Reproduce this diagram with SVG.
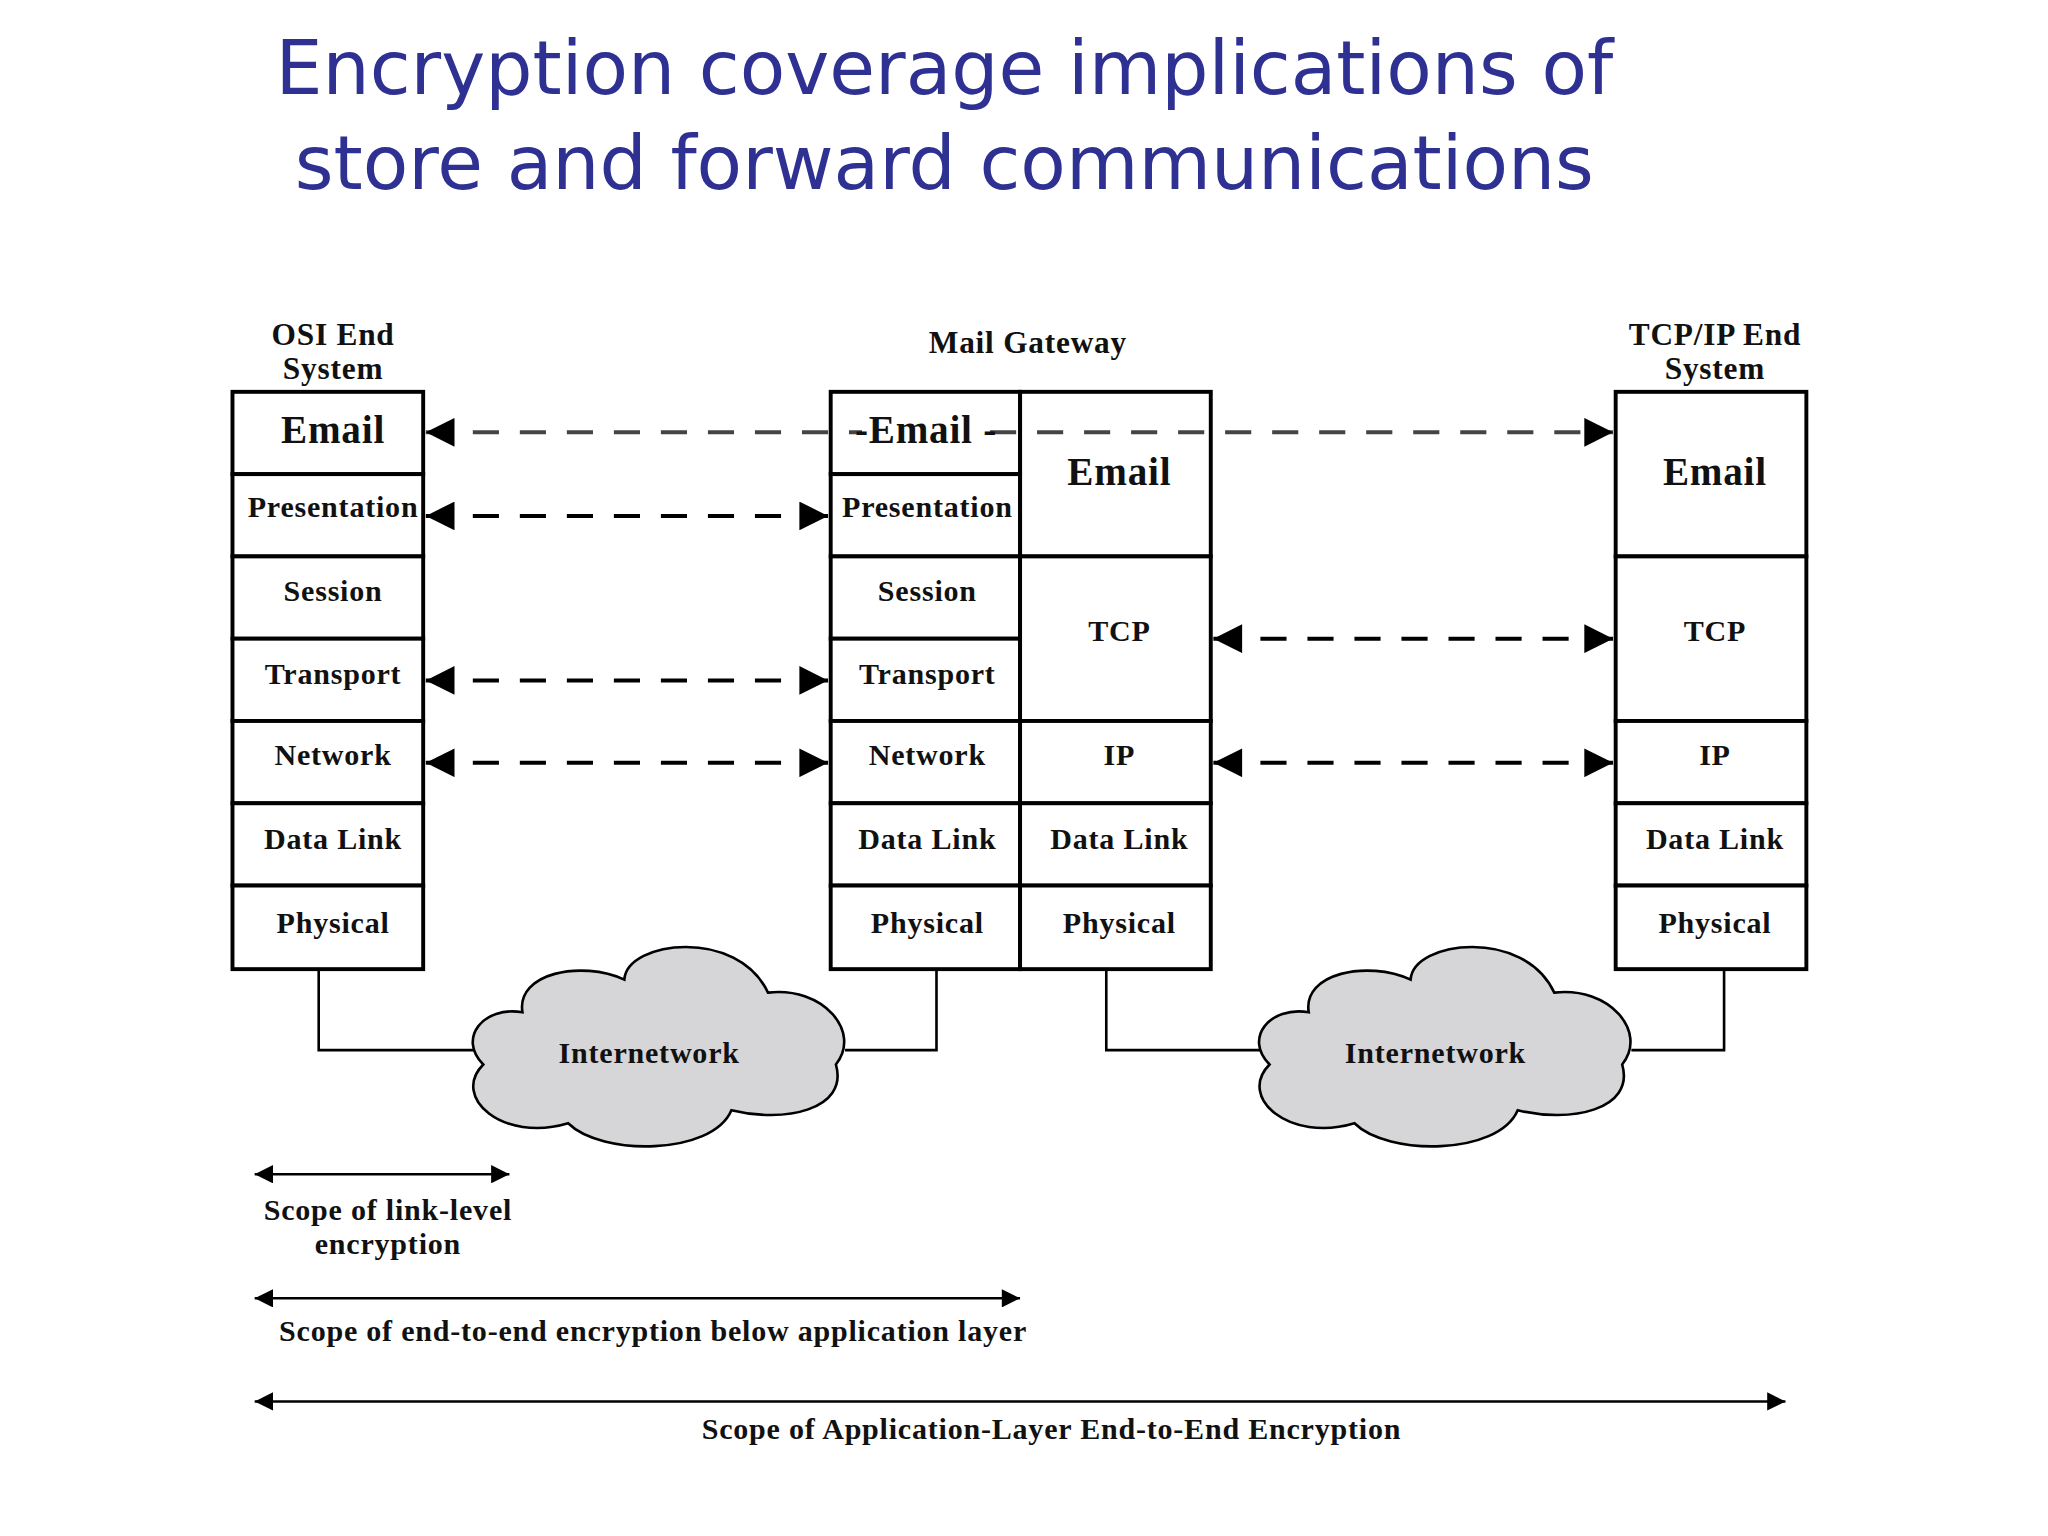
<svg xmlns="http://www.w3.org/2000/svg" width="2048" height="1536" viewBox="0 0 2048 1536">
<defs>
<style>
.t{font-family:"Liberation Serif",serif;font-weight:bold;fill:#111;text-anchor:middle;letter-spacing:0.6px}
.b{fill:#fff;stroke:#000;stroke-width:3}
.d{stroke:#000;stroke-width:3;stroke-dasharray:20 16;fill:none}
.g{stroke:#444}
.s{stroke:#000;stroke-width:2;fill:none}
.c{fill:#d6d6d9;stroke:#000;stroke-width:2}
.ti{font-family:"DejaVu Sans",sans-serif;fill:#2e3192;font-size:57px;text-anchor:middle}
</style>
<marker id="m" viewBox="0 0 10 10" refX="10" refY="5" markerWidth="26" markerHeight="22" markerUnits="userSpaceOnUse" orient="auto-start-reverse"><path d="M0,0L10,5L0,10z"/></marker>
<marker id="sm" viewBox="0 0 10 10" refX="10" refY="5" markerWidth="22" markerHeight="14" markerUnits="userSpaceOnUse" orient="auto-start-reverse"><path d="M0,0L10,5L0,10z"/></marker>
</defs>
<rect width="2048" height="1536" fill="#fff"/>
<g transform="scale(1.30612)">
<g id="title">
<text class="ti" x="723" y="72">Encryption coverage implications of</text>
<text class="ti" x="723" y="145">store and forward communications</text>
</g>
<g id="connectors">
<path class="s" d="M244,742V804H365M647,804H717V742M847,742V804H966M1249,804H1320V742"/>
<line class="d g" x1="326" y1="331" x2="1235" y2="331" marker-start="url(#m)" marker-end="url(#m)"/>
<line class="d" x1="326" y1="395" x2="634" y2="395" marker-start="url(#m)" marker-end="url(#m)"/>
<line class="d" x1="326" y1="521" x2="634" y2="521" marker-start="url(#m)" marker-end="url(#m)"/>
<line class="d" x1="326" y1="584" x2="634" y2="584" marker-start="url(#m)" marker-end="url(#m)"/>
<line class="d" x1="929" y1="489" x2="1235" y2="489" marker-start="url(#m)" marker-end="url(#m)"/>
<line class="d" x1="929" y1="584" x2="1235" y2="584" marker-start="url(#m)" marker-end="url(#m)"/>
<line class="s" x1="195" y1="899" x2="390" y2="899" marker-start="url(#sm)" marker-end="url(#sm)"/>
<line class="s" x1="195" y1="994" x2="781" y2="994" marker-start="url(#sm)" marker-end="url(#sm)"/>
<line class="s" x1="195" y1="1073" x2="1367" y2="1073" marker-start="url(#sm)" marker-end="url(#sm)"/>
</g>
<g id="osi">
<text class="t" x="255" y="264" font-size="24">OSI End</text>
<text class="t" x="255" y="290" font-size="24">System</text>
<rect class="b" x="178" y="300" width="146" height="63"/>
<rect class="b" x="178" y="363" width="146" height="63"/>
<rect class="b" x="178" y="426" width="146" height="63"/>
<rect class="b" x="178" y="489" width="146" height="63"/>
<rect class="b" x="178" y="552" width="146" height="63"/>
<rect class="b" x="178" y="615" width="146" height="63"/>
<rect class="b" x="178" y="678" width="146" height="64"/>
<text class="t" x="255" y="339" font-size="30">Email</text>
<text class="t" x="255" y="396" font-size="23">Presentation</text>
<text class="t" x="255" y="460" font-size="23">Session</text>
<text class="t" x="255" y="524" font-size="23">Transport</text>
<text class="t" x="255" y="586" font-size="23">Network</text>
<text class="t" x="255" y="650" font-size="23">Data Link</text>
<text class="t" x="255" y="714" font-size="23">Physical</text>
</g>
<g id="gateway">
<text class="t" x="787" y="270" font-size="24">Mail Gateway</text>
<rect class="b" x="636" y="300" width="145" height="63" fill-opacity="0"/>
<rect class="b" x="636" y="363" width="145" height="63"/>
<rect class="b" x="636" y="426" width="145" height="63"/>
<rect class="b" x="636" y="489" width="145" height="63"/>
<rect class="b" x="636" y="552" width="145" height="63"/>
<rect class="b" x="636" y="615" width="145" height="63"/>
<rect class="b" x="636" y="678" width="145" height="64"/>
<rect x="660" y="315" width="95" height="32" fill="#fff"/>
<text class="t" x="709" y="339" font-size="30">-Email -</text>
<text class="t" x="710" y="396" font-size="23">Presentation</text>
<text class="t" x="710" y="460" font-size="23">Session</text>
<text class="t" x="710" y="524" font-size="23">Transport</text>
<text class="t" x="710" y="586" font-size="23">Network</text>
<text class="t" x="710" y="650" font-size="23">Data Link</text>
<text class="t" x="710" y="714" font-size="23">Physical</text>
<rect class="b" x="781" y="300" width="146" height="126" fill-opacity="0"/>
<rect class="b" x="781" y="426" width="146" height="126"/>
<rect class="b" x="781" y="552" width="146" height="63"/>
<rect class="b" x="781" y="615" width="146" height="63"/>
<rect class="b" x="781" y="678" width="146" height="64"/>
<rect x="800" y="345" width="110" height="34" fill="#fff"/>
<text class="t" x="857" y="371" font-size="30">Email</text>
<text class="t" x="857" y="491" font-size="23">TCP</text>
<text class="t" x="857" y="586" font-size="23">IP</text>
<text class="t" x="857" y="650" font-size="23">Data Link</text>
<text class="t" x="857" y="714" font-size="23">Physical</text>
</g>
<g id="tcpip">
<text class="t" x="1313" y="264" font-size="24">TCP/IP End</text>
<text class="t" x="1313" y="290" font-size="24">System</text>
<rect class="b" x="1237" y="300" width="146" height="126"/>
<rect class="b" x="1237" y="426" width="146" height="126"/>
<rect class="b" x="1237" y="552" width="146" height="63"/>
<rect class="b" x="1237" y="615" width="146" height="63"/>
<rect class="b" x="1237" y="678" width="146" height="64"/>
<text class="t" x="1313" y="371" font-size="30">Email</text>
<text class="t" x="1313" y="491" font-size="23">TCP</text>
<text class="t" x="1313" y="586" font-size="23">IP</text>
<text class="t" x="1313" y="650" font-size="23">Data Link</text>
<text class="t" x="1313" y="714" font-size="23">Physical</text>
</g>
<g id="cloud1">
<path class="c" d="M400,775C395,745 445,735 478,750C480,720 565,710 588,760C630,755 660,790 640,815C650,850 600,860 560,850C545,885 460,885 435,860C385,875 345,840 370,815C350,795 370,770 400,775Z"/>
<text class="t" x="497" y="814" font-size="23">Internetwork</text>
</g>
<g id="cloud2">
<path class="c" d="M1002,775C997,745 1047,735 1080,750C1082,720 1167,710 1190,760C1232,755 1262,790 1242,815C1252,850 1202,860 1162,850C1147,885 1062,885 1037,860C987,875 947,840 972,815C952,795 972,770 1002,775Z"/>
<text class="t" x="1099" y="814" font-size="23">Internetwork</text>
</g>
<g id="labels">
<text class="t" x="297" y="934" font-size="23">Scope of link-level</text>
<text class="t" x="297" y="960" font-size="23">encryption</text>
<text class="t" x="500" y="1027" font-size="23">Scope of end-to-end encryption below application layer</text>
<text class="t" x="805" y="1102" font-size="23">Scope of Application-Layer End-to-End Encryption</text>
</g>
</g>
</svg>
